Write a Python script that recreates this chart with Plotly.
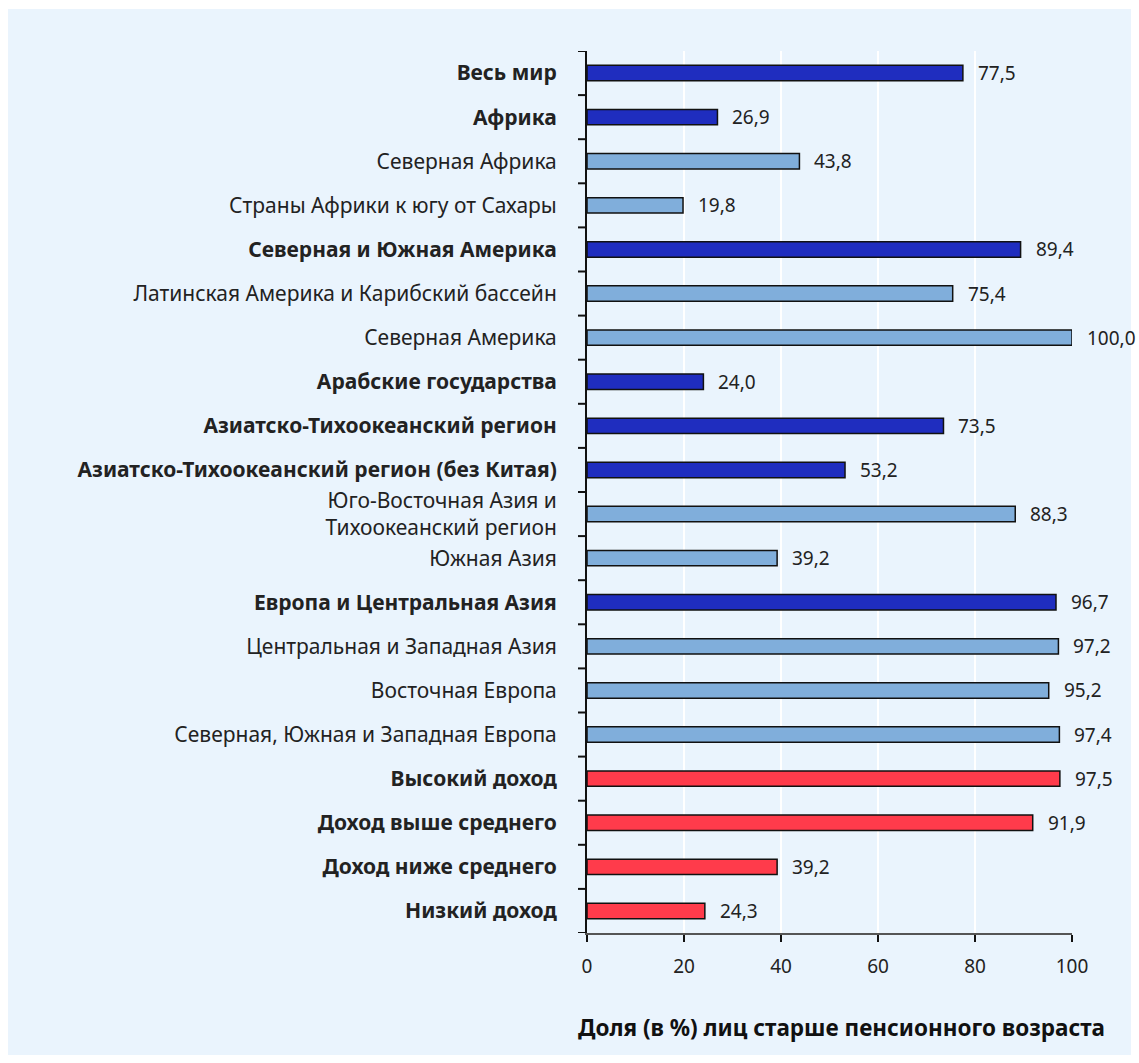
import plotly.graph_objects as go

# Regions / income groups, top to bottom
categories = [
    "Весь мир",
    "Африка",
    "Северная Африка",
    "Страны Африки к югу от Сахары",
    "Северная и Южная Америка",
    "Латинская Америка и Карибский бассейн",
    "Северная Америка",
    "Арабские государства",
    "Азиатско-Тихоокеанский регион",
    "Азиатско-Тихоокеанский регион (без Китая)",
    "Юго-Восточная Азия и<br>Тихоокеанский регион",
    "Южная Азия",
    "Европа и Центральная Азия",
    "Центральная и Западная Азия",
    "Восточная Европа",
    "Северная, Южная и Западная Европа",
    "Высокий доход",
    "Доход выше среднего",
    "Доход ниже среднего",
    "Низкий доход",
]
values = [77.5, 26.9, 43.8, 19.8, 89.4, 75.4, 100.0, 24.0, 73.5, 53.2,
          88.3, 39.2, 96.7, 97.2, 95.2, 97.4, 97.5, 91.9, 39.2, 24.3]
# row kind: "agg" = regional aggregate, "sub" = subregion, "inc" = income group
kinds = ["agg", "agg", "sub", "sub", "agg", "sub", "sub", "agg", "agg", "agg",
         "sub", "sub", "agg", "sub", "sub", "sub", "inc", "inc", "inc", "inc"]
x_ticks = [0, 20, 40, 60, 80, 100]

FONT = "Noto Sans"
palette = {"agg": "#1F2DBF", "sub": "#80AEDB", "inc": "#FF3B4B"}
colors = [palette[k] for k in kinds]
labels = [f"{v:.1f}".replace(".", ",") for v in values]
tick_text = [f"<b>{c}</b>" if k != "sub" else c for c, k in zip(categories, kinds)]
ids = list(range(len(categories)))

fig = go.Figure(
    go.Bar(
        x=values,
        y=ids,
        orientation="h",
        width=0.35,
        marker=dict(color=colors, line=dict(color="#111111", width=1.5)),
        cliponaxis=False,
        hoverinfo="x+y",
    )
)

# Value labels to the right of each bar
value_labels = [
    dict(x=v, y=i, xref="x", yref="y", text=t, showarrow=False,
         xanchor="left", yanchor="middle", xshift=13,
         font=dict(family=FONT, size=19, color="#222222"))
    for i, (v, t) in enumerate(zip(values, labels))
]

fig.update_layout(
    width=1139,
    height=1063,
    paper_bgcolor="white",
    plot_bgcolor="#EBF1F9",
    margin=dict(l=587, r=67, t=51, b=130),
    font=dict(family=FONT, size=21, color="#222222"),
    showlegend=False,
    annotations=value_labels + [
        dict(text="<b>Доля (в %) лиц старше пенсионного возраста</b>",
             xref="paper", yref="paper", x=(841 - 587) / 485, y=-94 / 882,
             xanchor="center", yanchor="middle", showarrow=False,
             font=dict(family=FONT, size=22.5, color="#111111")),
    ],
)

fig.update_xaxes(
    range=[0, 100],
    tickvals=x_ticks,
    ticktext=[str(t) for t in x_ticks],
    showgrid=True,
    gridcolor="white",
    gridwidth=2,
    zeroline=False,
    showline=True,
    linecolor="#555555",
    linewidth=1.5,
    ticks="outside",
    ticklen=7,
    tickcolor="#111111",
    tickwidth=1.5,
    ticklabelstandoff=8,
    tickfont=dict(family=FONT, size=19, color="#222222"),
)

fig.update_yaxes(
    tickmode="array",
    tickvals=ids,
    ticktext=tick_text,
    range=[len(categories) - 0.5, -0.5],
    showgrid=False,
    zeroline=False,
    showline=True,
    linecolor="#111111",
    linewidth=2,
    ticks="outside",
    ticklen=0,
    ticklabelstandoff=24,
    tickfont=dict(family=FONT, size=21, color="#222222"),
)

# Outer light-blue panel plus category boundary ticks on the left axis
panel = dict(type="rect", xref="paper", yref="paper", layer="below",
             x0=-579 / 485, x1=1 + 59 / 485, y0=-122 / 882, y1=1 + 42 / 882,
             fillcolor="#EAF4FD", line=dict(width=0))
boundary_ticks = [
    dict(type="line", xref="paper", yref="y", x0=-9 / 485, x1=0,
         y0=i - 0.5, y1=i - 0.5, line=dict(color="#111111", width=2))
    for i in range(len(categories) + 1)
]
fig.update_layout(shapes=[panel] + boundary_ticks)

fig.write_html("out.html")
